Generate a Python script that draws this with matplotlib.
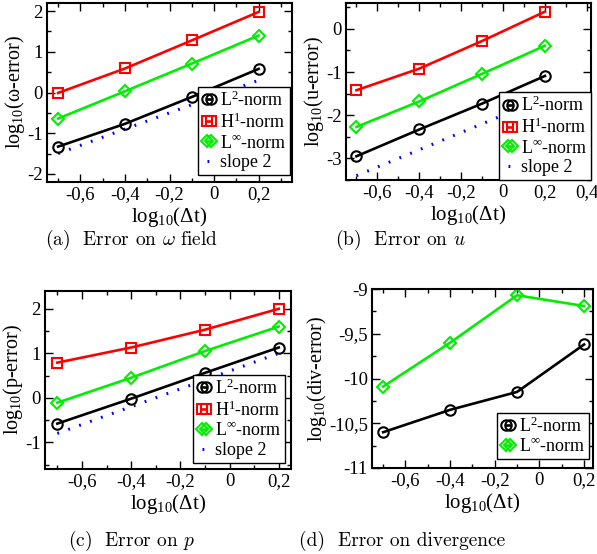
import matplotlib
matplotlib.use("Agg")
import matplotlib.pyplot as plt
from matplotlib.ticker import MultipleLocator, FixedLocator, FuncFormatter

plt.rcParams['font.family'] = ['Liberation Serif', 'DejaVu Serif']
plt.rcParams['mathtext.fontset'] = 'custom'
plt.rcParams['mathtext.rm'] = 'Liberation Serif'
plt.rcParams['mathtext.it'] = 'Liberation Serif:italic'
plt.rcParams['axes.unicode_minus'] = False

# ---- data ----
dt = [-0.7, -0.4, -0.1, 0.2]

w_L2 = [-1.33, -0.77, -0.11, 0.58]
w_H1 = [-0.01, 0.59, 1.28, 1.98]
w_Linf = [-0.64, 0.03, 0.71, 1.40]
w_slope = [-1.5, 0.3]

u_L2 = [-2.95, -2.33, -1.73, -1.09]
u_H1 = [-1.42, -0.92, -0.28, 0.40]
u_Linf = [-2.27, -1.68, -1.04, -0.39]
u_slope = [-3.4, -1.6]

p_L2 = [-0.58, -0.02, 0.56, 1.13]
p_H1 = [0.79, 1.13, 1.53, 2.00]
p_Linf = [-0.11, 0.45, 1.05, 1.60]
p_slope = [-0.8, 1.0]

d_L2 = [-10.60, -10.35, -10.15, -9.62]
d_Linf = [-10.09, -9.60, -9.07, -9.19]

slope_x = [-0.7, 0.2]

xticks_ab = [-0.6, -0.4, -0.2, 0, 0.2, 0.4]
xticks_cd = [-0.6, -0.4, -0.2, 0, 0.2]
yticks_a = [-2, -1, 0, 1, 2]
yticks_b = [-3, -2, -1, 0]
yticks_c = [-1, 0, 1, 2]
yticks_d = [-11, -10.5, -10, -9.5, -9]

ylabels = ['log$_{10}$(ω-error)', 'log$_{10}$(u-error)',
           'log$_{10}$(p-error)', 'log$_{10}$(div-error)']
xlabel = 'log$_{10}$(Δt)'
leg_labels = ['L$^{2}$-norm', 'H$^{1}$-norm', 'L$^{\\infty}$-norm', 'slope 2']
captions = ['(a)  Error on $\\omega$ field', '(b)  Error on $u$',
            '(c)  Error on $p$', '(d)  Error on divergence']

W, H = 597, 554
fig = plt.figure(figsize=(W / 100, H / 100), dpi=100)


def px_axes(l, r, t, b):
    return fig.add_axes([l / W, 1 - b / H, (r - l) / W, (b - t) / H])


def fmt(v, pos):
    return f"{round(v, 3):g}".replace('.', ',')


LW = 1.9
MS = 7.5
MEW = 1.5
style = dict(
    L2=dict(color='black', marker='o', mfc='none', mec='black'),
    H1=dict(color='#ff0000', marker='s', mfc='none', mec='#ff0000'),
    Linf=dict(color='#00ee00', marker='D', mfc='none', mec='#00ee00'),
)


def setup(ax, xlim, ylim, xt, yt, yminor, ylabel):
    ax.set_xlim(*xlim)
    ax.set_ylim(*ylim)
    ax.xaxis.set_major_locator(FixedLocator(xt))
    ax.yaxis.set_major_locator(FixedLocator(yt))
    ax.xaxis.set_minor_locator(MultipleLocator(0.1))
    ax.yaxis.set_minor_locator(MultipleLocator(yminor))
    ax.xaxis.set_major_formatter(FuncFormatter(fmt))
    ax.yaxis.set_major_formatter(FuncFormatter(fmt))
    ax.tick_params(which='both', direction='in', top=True, right=True,
                   labelsize=13.5, width=1.0, pad=3)
    ax.tick_params(which='major', length=6)
    ax.tick_params(which='minor', length=3)
    for s in ax.spines.values():
        s.set_linewidth(1.5)
    ax.set_xlabel(xlabel, fontsize=15, labelpad=1)
    ax.set_ylabel(ylabel, fontsize=14.5, labelpad=0)


def plot_panel(ax, L2, H1, Linf, slope):
    ax.plot(dt, L2, lw=LW, ms=MS, mew=MEW, label=leg_labels[0], **style['L2'])
    if H1 is not None:
        ax.plot(dt, H1, lw=LW, ms=MS - 0.8, mew=MEW, label=leg_labels[1], **style['H1'])
    ax.plot(dt, Linf, lw=LW, ms=MS - 1.2, mew=MEW, label=leg_labels[2], **style['Linf'])
    if slope is not None:
        ax.plot(slope_x, slope, color='#0000ff', lw=2.2, ls=(0, (0.6, 3.2)),
                label=leg_labels[3], zorder=1)


def legend(ax, anchor):
    lg = ax.legend(loc='lower right', bbox_to_anchor=anchor, numpoints=2,
                   handlelength=0.8, handletextpad=0.2, borderpad=0.2,
                   labelspacing=0.15, borderaxespad=0.0, fontsize=13,
                   frameon=True, fancybox=False, framealpha=1,
                   edgecolor='black')
    lg.get_frame().set_linewidth(1.0)
    return lg


axa = px_axes(47, 292, 3, 182)
plot_panel(axa, w_L2, w_H1, w_Linf, w_slope)
setup(axa, (-0.75, 0.35), (-2.2, 2.2), xticks_cd, yticks_a, 0.5, ylabels[0])
legend(axa, (0.99, 0.04))

axb = px_axes(346, 591, 3, 180)
plot_panel(axb, u_L2, u_H1, u_Linf, u_slope)
setup(axb, (-0.75, 0.42), (-3.5, 0.6), xticks_ab, yticks_b, 0.5, ylabels[1])
legend(axb, (1.0, 0.0))

axc = px_axes(45, 291, 291, 469)
plot_panel(axc, p_L2, p_H1, p_Linf, p_slope)
setup(axc, (-0.75, 0.25), (-1.6, 2.4), xticks_cd, yticks_c, 0.5, ylabels[2])
legend(axc, (0.975, 0.035))

axd = px_axes(372, 593, 289, 468)
plot_panel(axd, d_L2, None, d_Linf, None)
setup(axd, (-0.75, 0.24), (-11, -9), xticks_cd, yticks_d, 0.25, ylabels[3])
legend(axd, (0.98, 0.05))

cap_pos = [(132, 240), (400, 240), (132, 541), (402, 541)]
for (cx, cy), txt in zip(cap_pos, captions):
    fig.text(cx / W, 1 - cy / H, txt, ha='center', va='center', fontsize=14,
             family='cmr10', math_fontfamily='cm')

fig.savefig('out.png', dpi=100)
